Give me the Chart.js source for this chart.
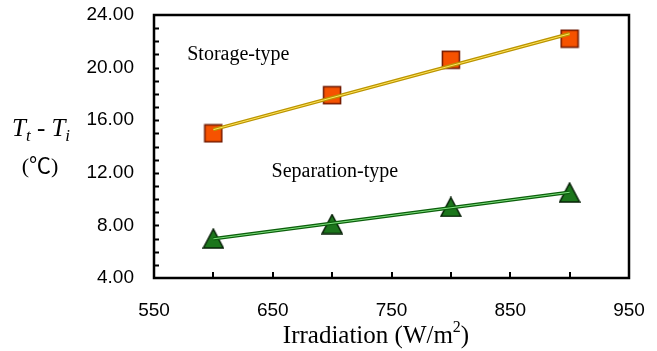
<!DOCTYPE html>
<html>
<head>
<meta charset="utf-8">
<script src="https://cdn.jsdelivr.net/npm/chart.js@4.4.1/dist/chart.umd.min.js"></script>
<style>
  html, body { margin: 0; padding: 0; background: #fff; }
  #chart { display: block; }
</style>
</head>
<body>
<canvas id="chart" width="657" height="351"></canvas>
<script>
// irradiation levels (W/m2)
var irradiation = [600, 700, 800, 900];
// temperature rise Tt - Ti (degC)
var storageValues = [15.0, 17.9, 20.6, 22.2];
var separationValues = [7.0, 8.1, 9.4, 10.5];
var xTickLabels = [550, 650, 750, 850, 950];
var yTickLabels = [4, 8, 12, 16, 20, 24];

function toPoints(xs, ys) {
    return xs.map(function (x, i) { return { x: x, y: ys[i] }; });
}

// least-squares trend line through the measured points
function trend(xs, ys) {
    var n = xs.length, mx = 0, my = 0, sxy = 0, sxx = 0;
    xs.forEach(function (x, i) { mx += x / n; my += ys[i] / n; });
    xs.forEach(function (x, i) { sxy += (x - mx) * (ys[i] - my); sxx += (x - mx) * (x - mx); });
    var k = sxy / sxx;
    var first = xs[0], last = xs[n - 1];
    return [{ x: first, y: my + k * (first - mx) }, { x: last, y: my + k * (last - mx) }];
}

function squareMarker(size, fill, stroke) {
    var c = document.createElement('canvas');
    c.width = size + 2; c.height = size + 2;
    var g = c.getContext('2d');
    g.fillStyle = fill;
    g.strokeStyle = stroke;
    g.lineWidth = 1.5;
    g.fillRect(1, 1, size, size);
    g.strokeRect(1.5, 1.5, size - 1, size - 1);
    return c;
}

function triangleMarker(w, h, fill, stroke) {
    var c = document.createElement('canvas');
    c.width = w + 2; c.height = h + 2;
    var g = c.getContext('2d');
    g.beginPath();
    g.moveTo(1 + w / 2, 1);
    g.lineTo(1 + w, 1 + h);
    g.lineTo(1, 1 + h);
    g.closePath();
    g.fillStyle = fill;
    g.fill();
    g.lineWidth = 1.5;
    g.strokeStyle = stroke;
    g.stroke();
    return c;
}

var serif = '"Liberation Serif", "Times New Roman", serif';
var sans = '"Liberation Sans", Arial, sans-serif';

function noOverflow(scale) {
    scale.paddingTop = 0;
    scale.paddingBottom = 0;
    scale.paddingLeft = 0;
    scale.paddingRight = 0;
}

var framePlugin = {
    id: 'frame',
    afterDraw: function (chart) {
        var ctx = chart.ctx, a = chart.chartArea;
        var xs = chart.scales.x, ys = chart.scales.y;
        ctx.save();
        ctx.strokeStyle = '#000';
        ctx.lineWidth = 2.5;
        ctx.strokeRect(a.left, a.top, a.right - a.left, a.bottom - a.top);

        // inward tick marks
        ctx.lineWidth = 2;
        ctx.beginPath();
        for (var v = 600; v < 950; v += 50) {
            var px = Math.round(xs.getPixelForValue(v));
            ctx.moveTo(px, a.bottom);
            ctx.lineTo(px, a.bottom - 6);
        }
        for (var t = 5; t < 24; t += 1) {
            var py = Math.round(ys.getPixelForValue(t)) + 0.5;
            ctx.moveTo(a.left, py);
            ctx.lineTo(a.left + 5, py);
        }
        ctx.stroke();

        // series labels
        ctx.fillStyle = '#000';
        ctx.font = '20px ' + serif;
        ctx.textAlign = 'left';
        ctx.textBaseline = 'middle';
        ctx.fillText('Storage-type', xs.getPixelForValue(578), ys.getPixelForValue(21.0));
        ctx.fillText('Separation-type', xs.getPixelForValue(649), ys.getPixelForValue(12.1));

        // y title: Tt - Ti
        var x = 12, base = 136;
        function piece(text, font, dy) {
            ctx.font = font;
            ctx.textBaseline = 'alphabetic';
            ctx.fillText(text, x, base + dy);
            x += ctx.measureText(text).width;
        }
        piece('T', 'italic 25px ' + serif, 0);
        piece('t', 'italic 17px ' + serif, 5);
        piece(' - ', '25px ' + serif, 0);
        piece('T', 'italic 25px ' + serif, 0);
        piece('i', 'italic 17px ' + serif, 5);

        ctx.font = '22px ' + serif + ', "Noto Sans CJK SC"';
        ctx.textAlign = 'center';
        ctx.fillText('(\u2103)', 40, 173);

        // x title
        var title1 = 'Irradiation (W/m', sup = '2', title2 = ')';
        ctx.font = '25px ' + serif;
        var w1 = ctx.measureText(title1).width, w3 = ctx.measureText(title2).width;
        ctx.font = '16px ' + serif;
        var w2 = ctx.measureText(sup).width;
        var sx = 376 - (w1 + w2 + w3) / 2;
        ctx.textAlign = 'left';
        ctx.font = '25px ' + serif;
        ctx.fillText(title1, sx, 343);
        ctx.font = '16px ' + serif;
        ctx.fillText(sup, sx + w1, 332);
        ctx.font = '25px ' + serif;
        ctx.fillText(title2, sx + w1 + w2, 343);
        ctx.restore();
    }
};

var ctx = document.getElementById('chart');
var chart = new Chart(ctx, {
    type: 'scatter',
    data: {
        datasets: [
            {
                label: 'Storage-type fit',
                data: trend(irradiation, storageValues),
                showLine: true,
                borderColor: '#bb9400',
                borderWidth: 3.5,
                pointRadius: 0,
                order: 2
            },
            {
                label: 'Storage-type fit highlight',
                data: trend(irradiation, storageValues),
                showLine: true,
                borderColor: '#ffe45c',
                borderWidth: 1,
                pointRadius: 0,
                order: 1
            },
            {
                label: 'Separation-type fit',
                data: trend(irradiation, separationValues),
                showLine: true,
                borderColor: '#0b5f0b',
                borderWidth: 3.5,
                pointRadius: 0,
                order: 2
            },
            {
                label: 'Separation-type fit highlight',
                data: trend(irradiation, separationValues),
                showLine: true,
                borderColor: '#7ee07e',
                borderWidth: 1,
                pointRadius: 0,
                order: 1
            },
            {
                label: 'Storage-type',
                data: toPoints(irradiation, storageValues),
                pointStyle: squareMarker(18, '#f65200', '#6e1800'),
                pointRadius: 10,
                order: 3
            },
            {
                label: 'Separation-type',
                data: toPoints(irradiation, separationValues),
                pointStyle: triangleMarker(20, 19, '#1c761c', '#061f06'),
                pointRadius: 10,
                order: 3
            }
        ]
    },
    options: {
        responsive: false,
        animation: false,
        devicePixelRatio: 1,
        layout: { padding: { left: 0, right: 28, top: 15, bottom: 0 } },
        plugins: {
            legend: { display: false },
            tooltip: { enabled: false }
        },
        scales: {
            x: {
                type: 'linear',
                min: 550,
                max: 950,
                afterBuildTicks: function (scale) {
                    scale.ticks = xTickLabels.map(function (v) { return { value: v }; });
                },
                afterFit: function (scale) { scale.height = 73; noOverflow(scale); },
                grid: { display: false, drawTicks: false },
                border: { display: false },
                ticks: {
                    padding: 21,
                    color: '#000',
                    font: { family: sans, size: 19 },
                    maxRotation: 0
                }
            },
            y: {
                min: 4,
                max: 24,
                afterBuildTicks: function (scale) {
                    scale.ticks = yTickLabels.map(function (v) { return { value: v }; });
                },
                afterFit: function (scale) { scale.width = 154; noOverflow(scale); },
                grid: { display: false, drawTicks: false },
                border: { display: false },
                ticks: {
                    padding: 20,
                    color: '#000',
                    font: { family: sans, size: 19 },
                    callback: function (v) { return Number(v).toFixed(2); }
                }
            }
        }
    },
    plugins: [framePlugin]
});
</script>
</body>
</html>
